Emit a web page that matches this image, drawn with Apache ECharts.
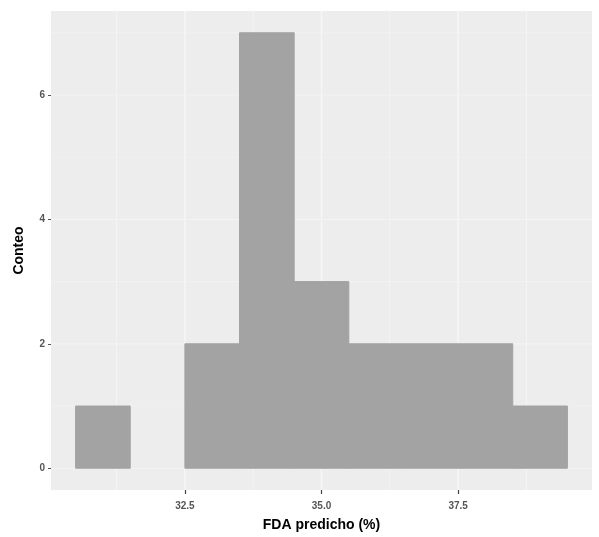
<!DOCTYPE html>
<html>
<head>
<meta charset="utf-8">
<script src="https://cdn.jsdelivr.net/npm/echarts@6/dist/echarts.min.js"></script>
<style>
  html, body { margin: 0; padding: 0; background: #fff; }
  #chart { width: 599px; height: 537px; }
</style>
</head>
<body>
<div id="chart"></div>
<script>
// histogram bins (width 1) and counts
const binStarts = [30.5, 31.5, 32.5, 33.5, 34.5, 35.5, 36.5, 37.5, 38.5];
const binWidth = 1;
const counts = [1, 0, 2, 7, 3, 2, 2, 2, 1];
const xTicks = [32.5, 35.0, 37.5];
const yTicks = [0, 2, 4, 6];

const chart = echarts.init(document.getElementById('chart'));

const binData = binStarts.map((s, i) => [s, s + binWidth, counts[i]]);

const option = {
  backgroundColor: '#fff',
  animation: false,
  grid: {
    left: 51, right: 7, top: 11, bottom: 43,
    show: true,
    backgroundColor: '#ededed',
    borderWidth: 0
  },
  xAxis: {
    type: 'value',
    min: 30.05,
    max: 39.95,
    name: 'FDA predicho (%)',
    nameLocation: 'middle',
    nameGap: 28,
    nameTextStyle: { fontFamily: 'Liberation Sans', fontWeight: 'bold', fontSize: 14, color: '#000' },
    axisLine: { show: false, onZero: false },
    axisTick: { show: true, length: 4, lineStyle: { color: '#444', width: 1.2 }, customValues: xTicks },
    axisLabel: {
      fontFamily: 'Liberation Sans', fontWeight: 'bold', fontSize: 10, color: '#555', margin: 11,
      customValues: xTicks,
      formatter: v => v.toFixed(1)
    },
    splitLine: { show: false }
  },
  yAxis: {
    type: 'value',
    min: -0.35,
    max: 7.35,
    name: 'Conteo',
    nameLocation: 'middle',
    nameGap: 25,
    nameRotate: 90,
    nameTextStyle: { fontFamily: 'Liberation Sans', fontWeight: 'bold', fontSize: 14, color: '#000' },
    axisLine: { show: false, onZero: false },
    axisTick: { show: true, length: 3, lineStyle: { color: '#555' }, customValues: yTicks },
    axisLabel: {
      fontFamily: 'Liberation Sans', fontWeight: 'bold', fontSize: 10, color: '#555', margin: 6,
      customValues: yTicks
    },
    splitLine: { show: false }
  },
  series: [
    {
      // panel gridlines (major and minor), drawn through the axes
      type: 'custom',
      silent: true,
      z: 1,
      data: [0],
      renderItem: (params, api) => {
        const children = [];
        const xMajor = xTicks;
        const xMinor = [31.25, 33.75, 36.25, 38.75];
        const yMajor = yTicks;
        const yMinor = [1, 3, 5, 7];
        const top = api.coord([30.05, 7.35])[1];
        const bottom = api.coord([30.05, -0.35])[1];
        const left = api.coord([30.05, 0])[0];
        const right = api.coord([39.95, 0])[0];
        xMajor.concat(xMinor).forEach(v => {
          const x = api.coord([v, 0])[0];
          children.push({ type: 'line', shape: { x1: x, y1: top, x2: x, y2: bottom },
            style: { stroke: '#f6f6f6', lineWidth: xMajor.includes(v) ? 1.5 : 0.8 } });
        });
        yMajor.concat(yMinor).forEach(v => {
          const y = api.coord([30.05, v])[1];
          children.push({ type: 'line', shape: { x1: left, y1: y, x2: right, y2: y },
            style: { stroke: '#f3f3f3', lineWidth: yMajor.includes(v) ? 1.2 : 0.6 } });
        });
        return { type: 'group', children };
      }
    },
    {
      type: 'custom',
      z: 2,
      data: binData,
      encode: { x: [0, 1], y: 2 },
      renderItem: (params, api) => {
        const p0 = api.coord([api.value(0), 0]);
        const p1 = api.coord([api.value(1), api.value(2)]);
        if (api.value(2) === 0) return null;
        return {
          type: 'rect',
          shape: { x: p0[0], y: p1[1], width: p1[0] - p0[0], height: p0[1] - p1[1] },
          style: { fill: '#a3a3a3', stroke: '#a3a3a3', lineWidth: 1 }
        };
      }
    }
  ]
};

chart.setOption(option);
</script>
</body>
</html>
